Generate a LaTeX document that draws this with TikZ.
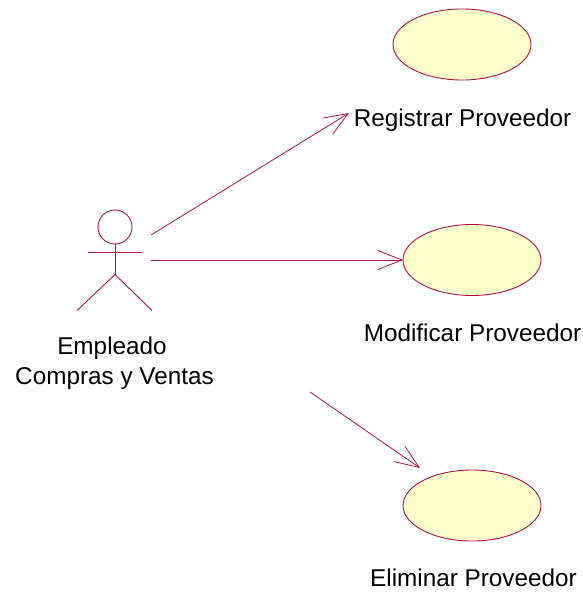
\documentclass[tikz,border=0pt]{standalone}
\usepackage{fontspec}
\setmainfont{Liberation Sans}
\usetikzlibrary{arrows.meta,shapes.geometric}
\definecolor{umlline}{RGB}{170,20,75}
\definecolor{umlfill}{RGB}{255,255,203}
\tikzset{
  x=1pt,y=-1pt,
  usecase/.style={ellipse,draw=umlline,fill=umlfill,line width=0.9pt,minimum width=138pt,minimum height=71pt,inner sep=0pt,outer sep=0pt},
  lbl/.style={font=\fontsize{24.3pt}{30pt}\selectfont,text=black,inner sep=0pt,align=center},
  actorline/.style={draw=umlline,line width=0.9pt},
  assoc/.style={draw=umlline,line width=0.8pt,-{Straight Barb[length=24pt,width=19pt,line width=0.8pt]}}
}
\begin{document}
\begin{tikzpicture}
\useasboundingbox (0,0) rectangle (583,592);
\node[usecase] (uc1) at (462,44.5) {};
\node[usecase] (uc2) at (472,260) {};
\node[usecase] (uc3) at (472,505.5) {};
\node[lbl] (t1) at (462.5,120) {Registrar Proveedor};
\node[lbl] (t2) at (472.5,332.5) {Modificar Proveedor};
\node[lbl] (t3) at (473.5,578) {Eliminar Proveedor};
\node[lbl] (ta) at (114.5,363) {Empleado\hspace*{5pt}\\Compras y Ventas};
% actor
\node[circle,draw=umlline,line width=0.9pt,minimum size=34pt,inner sep=0pt,outer sep=0pt] (head) at (115,227) {};
\coordinate (hip) at (115,274.5);
\coordinate (armL) at (88,252);
\coordinate (armR) at (142,252);
\coordinate (footL) at (77,310.5);
\coordinate (footR) at (152,310.5);
\draw[actorline] (head.south) -- (hip);
\draw[actorline] (armL) -- (armR);
\draw[actorline] (footL) -- (hip) -- (footR);
% associations
\coordinate (s1) at (151,235);
\coordinate (e1) at (349,113);
\coordinate (s2) at (151,260);
\coordinate (s3) at (310,392);
\coordinate (e3) at (420,468);
\draw[assoc] (s1) -- (e1);
\draw[assoc] (s2) -- (uc2.west);
\draw[assoc] (s3) -- (e3);
\end{tikzpicture}
\end{document}
